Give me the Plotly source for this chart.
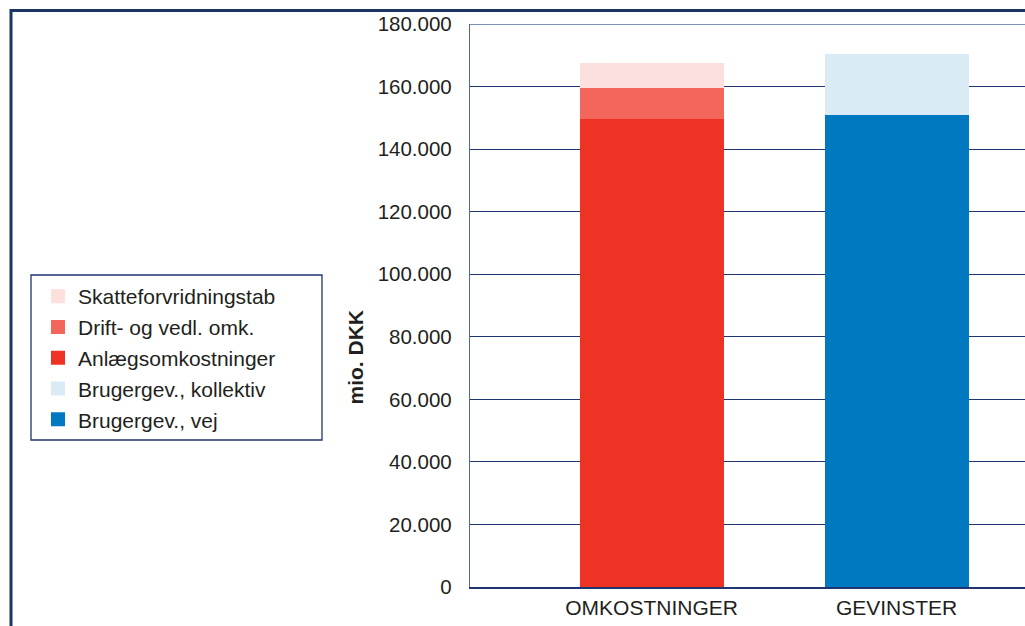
import plotly.graph_objects as go

W, H = 1025, 626

categories = ["OMKOSTNINGER", "GEVINSTER"]

# Stacked components (mio. DKK)
anlaeg = [150000, None]
drift = [10000, None]
skat = [7200, None]
bruger_vej = [None, 151300]
bruger_koll = [None, 18800]

y_ticks = [0, 20000, 40000, 60000, 80000, 100000, 120000, 140000, 160000, 180000]
y_tick_text = ["0", "20.000", "40.000", "60.000", "80.000", "100.000",
               "120.000", "140.000", "160.000", "180.000"]

# legend order top to bottom
series = [
    ("Skatteforvridningstab", skat, "#FBE0DE"),
    ("Drift- og vedl. omk.", drift, "#F2665C"),
    ("Anlægsomkostninger", anlaeg, "#EE3224"),
    ("Brugergev., kollektiv", bruger_koll, "#DAEBF5"),
    ("Brugergev., vej", bruger_vej, "#0079C1"),
]
# stacking order bottom to top
stack_order = [2, 1, 0, 4, 3]

FONT = "Liberation Sans, Arial, sans-serif"
NAVY = "#1F3470"

fig = go.Figure()
for idx in stack_order:
    name, vals, col = series[idx]
    fig.add_trace(go.Bar(
        x=categories, y=vals, name=name,
        marker=dict(color=col, line=dict(width=2, color=col)),
        width=0.58, legendgroup=f"g{idx}", legendrank=idx + 1,
        hoverinfo="skip",
    ))

# plot area placement in figure pixels
x_left, y_top, y_bot = 470, 24, 587

fig.update_layout(
    width=W, height=H,
    margin=dict(l=0, r=0, t=0, b=0, autoexpand=False),
    paper_bgcolor="white", plot_bgcolor="white",
    barmode="stack",
    font=dict(family=FONT, color="#231F20", size=20),
    showlegend=True,
    legend=dict(
        x=38 / W, y=1 - 276 / H, xanchor="left", yanchor="top",
        borderwidth=0,
        bgcolor="rgba(0,0,0,0)",
        traceorder="grouped",
        tracegroupgap=0.5,
        font=dict(family=FONT, size=21, color="#231F20"),
    ),
    xaxis=dict(
        domain=[x_left / W, 1],
        range=[-0.741, 1.524],
        automargin=False,
        showgrid=False, showline=True, linecolor=NAVY, linewidth=1.5,
        ticks="", tickfont=dict(size=21, family=FONT),
        ticklabelstandoff=1,
    ),
    yaxis=dict(
        domain=[1 - y_bot / H, 1 - y_top / H],
        range=[0, 180000],
        automargin=False,
        tickvals=y_ticks, ticktext=y_tick_text,
        showgrid=True, gridcolor=NAVY, gridwidth=1.3,
        zeroline=False,
        showline=True, linecolor="#4C6A9C", linewidth=1.3,
        ticks="", ticklabelstandoff=13,
        tickfont=dict(size=20.5, family=FONT),
    ),
    annotations=[dict(
        text="<b>mio. DKK</b>", textangle=-90,
        x=341 / W, y=1 - 357 / H, xref="paper", yref="paper",
        showarrow=False, font=dict(size=21, family=FONT, color="#231F20"),
    )],
    shapes=[
        # outer frame
        dict(type="rect", xref="paper", yref="paper",
             x0=11 / W, x1=1.05, y0=-0.05, y1=1 - 10.5 / H,
             line=dict(color="#1A3466", width=3), layer="above"),
        # legend frame
        dict(type="rect", xref="paper", yref="paper",
             x0=31 / W, x1=322 / W, y0=1 - 440 / H, y1=1 - 275 / H,
             line=dict(color=NAVY, width=1.3), layer="above"),
        # lighter top edge of the plot area
        dict(type="line", xref="paper", yref="y",
             x0=x_left / W, x1=1, y0=180000, y1=180000,
             line=dict(color="#4C6A9C", width=1.3), layer="above"),
    ],
)

fig.write_html("out.html")
